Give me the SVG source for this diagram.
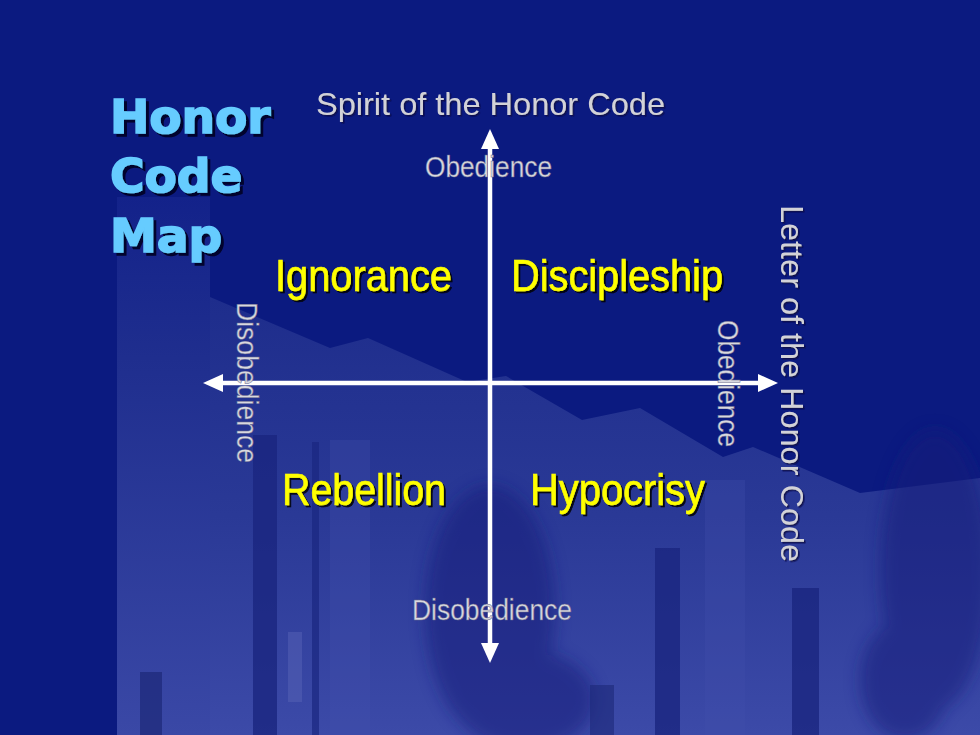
<svg xmlns="http://www.w3.org/2000/svg" width="980" height="735" viewBox="0 0 980 735">
  <defs>
    <linearGradient id="bldg" x1="0" y1="0" x2="0" y2="1">
      <stop offset="0" stop-color="#1e2d8c"/>
      <stop offset="0.5" stop-color="#2a3996"/>
      <stop offset="1" stop-color="#3c4aa8"/>
    </linearGradient>
    <linearGradient id="tower" x1="0" y1="0" x2="0" y2="1">
      <stop offset="0" stop-color="#13228a"/>
      <stop offset="0.3" stop-color="#1f2e8e"/>
      <stop offset="1" stop-color="#3a48a6"/>
    </linearGradient>
    <filter id="blur" x="-20%" y="-20%" width="140%" height="140%">
      <feGaussianBlur stdDeviation="8"/>
    </filter>
    <filter id="shadowBig" x="-10%" y="-10%" width="130%" height="140%">
      <feDropShadow dx="3" dy="3" stdDeviation="0.6" flood-color="#000020" flood-opacity="0.9"/>
    </filter>
    <filter id="shadow" x="-10%" y="-10%" width="130%" height="140%">
      <feDropShadow dx="2" dy="2" stdDeviation="0.5" flood-color="#000000" flood-opacity="0.85"/>
    </filter>
    <filter id="shadowSm" x="-10%" y="-10%" width="130%" height="140%">
      <feDropShadow dx="1.5" dy="1.5" stdDeviation="0.5" flood-color="#10104a" flood-opacity="0.9"/>
    </filter>
  </defs>
  <style>
    .title { font-family: "DejaVu Sans", "Liberation Sans", sans-serif; font-weight: bold; font-size: 47px; fill: #66ccff; stroke: #66ccff; stroke-width: 1.6px; }
    .axis { font-family: "Liberation Sans", Arial, sans-serif; font-size: 32px; fill: #d2d2d8; }
    .pole { font-family: "Liberation Sans", Arial, sans-serif; font-size: 29px; fill: #d8d8e0; stroke: #6a6a8a; stroke-width: 0.5px; }
    .quad { font-family: "Liberation Sans", Arial, sans-serif; font-size: 45px; fill: #ffff00; stroke: #ffff00; stroke-width: 0.6px; }
    .arrow { stroke: #ffffff; stroke-width: 4.5; fill: none; }
    .head { fill: #ffffff; }
  </style>

  <!-- background scene -->
  <g id="background">
    <rect x="0" y="0" width="980" height="735" fill="#0b1a80"/>
    <rect x="117" y="197" width="93" height="538" fill="url(#tower)"/>
    <polygon points="210,297 330,348 368,338 467,382 506,376 582,420 640,408 723,457 753,447 860,493 900,488 980,478 980,735 210,735" fill="url(#bldg)"/>
    <!-- dark windows -->
    <rect x="253" y="435" width="24" height="300" fill="#1a2680" opacity="0.8"/>
    <rect x="312" y="442" width="7" height="293" fill="#1a2680" opacity="0.7"/>
    <rect x="655" y="548" width="25" height="187" fill="#1a2680" opacity="0.8"/>
    <rect x="792" y="588" width="27" height="147" fill="#1a2680" opacity="0.8"/>
    <!-- lighter columns -->
    <rect x="330" y="440" width="40" height="295" fill="#4250ad" opacity="0.3"/>
    <rect x="705" y="480" width="40" height="255" fill="#4250ad" opacity="0.3"/>
    <!-- trees -->
    <g filter="url(#blur)" fill="#121e7a" opacity="0.55">
      <ellipse cx="490" cy="610" rx="65" ry="125"/>
      <ellipse cx="525" cy="700" rx="70" ry="50"/>
      <ellipse cx="935" cy="570" rx="55" ry="140"/>
      <ellipse cx="905" cy="680" rx="45" ry="60"/>
    </g>
    <!-- lamps -->
    <rect x="140" y="672" width="22" height="63" fill="#1c2878" opacity="0.7"/>
    <rect x="288" y="632" width="14" height="70" fill="#5a66b8" opacity="0.45"/>
    <rect x="590" y="685" width="24" height="50" fill="#1c2878" opacity="0.6"/>
  </g>

  <!-- title -->
  <g id="title" filter="url(#shadowBig)">
    <text class="title" x="110" y="133">Honor</text>
    <text class="title" x="110" y="192">Code</text>
    <text class="title" x="110" y="252">Map</text>
  </g>

  <!-- connectors -->
  <g id="connectors">
    <line class="arrow" x1="490" y1="145" x2="490" y2="648"/>
    <line class="arrow" x1="219" y1="383" x2="762" y2="383"/>
    <polygon class="head" points="490,129 499,149 481,149"/>
    <polygon class="head" points="490,663 499,643 481,643"/>
    <polygon class="head" points="203,383 223,374 223,392"/>
    <polygon class="head" points="778,383 758,374 758,392"/>
  </g>

  <!-- axis labels -->
  <g id="spirit-label" filter="url(#shadowSm)">
    <text class="axis" x="316" y="115" textLength="349" lengthAdjust="spacingAndGlyphs">Spirit of the Honor Code</text>
  </g>
  <g id="letter-label" filter="url(#shadowSm)">
    <text class="axis" transform="translate(781,205) rotate(90)" textLength="357" lengthAdjust="spacingAndGlyphs">Letter of the Honor Code</text>
  </g>
  <g id="top-obedience">
    <text class="pole" x="425" y="177" textLength="127" lengthAdjust="spacingAndGlyphs">Obedience</text>
  </g>
  <g id="bottom-disobedience">
    <text class="pole" x="412" y="620" textLength="160" lengthAdjust="spacingAndGlyphs">Disobedience</text>
  </g>
  <g id="left-disobedience">
    <text class="pole" transform="translate(237,302) rotate(90)" textLength="161" lengthAdjust="spacingAndGlyphs">Disobedience</text>
  </g>
  <g id="right-obedience">
    <text class="pole" transform="translate(718,320) rotate(90)" textLength="127" lengthAdjust="spacingAndGlyphs">Obedience</text>
  </g>

  <!-- quadrants -->
  <g id="ignorance" filter="url(#shadow)">
    <text class="quad" x="275" y="291" textLength="177" lengthAdjust="spacingAndGlyphs">Ignorance</text>
  </g>
  <g id="discipleship" filter="url(#shadow)">
    <text class="quad" x="511" y="291" textLength="212" lengthAdjust="spacingAndGlyphs">Discipleship</text>
  </g>
  <g id="rebellion" filter="url(#shadow)">
    <text class="quad" x="282" y="505" textLength="164" lengthAdjust="spacingAndGlyphs">Rebellion</text>
  </g>
  <g id="hypocrisy" filter="url(#shadow)">
    <text class="quad" x="530" y="505" textLength="175" lengthAdjust="spacingAndGlyphs">Hypocrisy</text>
  </g>
</svg>
